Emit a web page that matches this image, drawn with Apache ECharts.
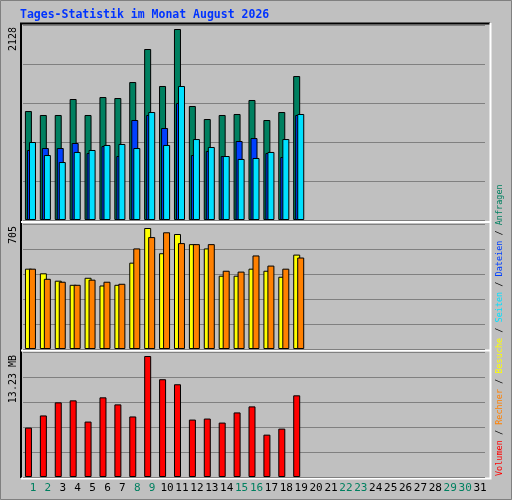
<!DOCTYPE html>
<html><head><meta charset="utf-8">
<script src="https://cdn.jsdelivr.net/npm/echarts@6/dist/echarts.min.js"></script>
<style>html,body{margin:0;padding:0;background:#c0c0c0}#c{width:512px;height:500px}</style>
</head><body><div id="c"></div>
<script>
const days = Array.from({length:31},(_,i)=>String(i+1));
const weekend = ['1','2','8','9','15','16','22','23','29','30'];
const anfragen = [1214,1170,1170,1348,1170,1370,1359,1537,1905,1493,2128,1270,1125,1170,1181,1337,1114,1203,1604];
const dateien = [780,802,802,858,746,824,713,1114,1170,1025,1303,724,769,713,880,913,746,702,1170];
const seiten = [869,724,646,758,780,836,847,802,1203,836,1493,902,813,713,680,691,758,902,1181];
const besuche = [468,441,398,374,415,370,374,503,705,558,670,611,586,427,427,468,456,421,550];
const rechner = [468,409,392,374,404,392,380,586,652,680,617,611,611,456,451,545,486,468,533];
const volumen = [5.40,6.73,8.16,8.38,6.06,8.71,7.94,6.62,13.23,10.69,10.14,6.28,6.39,5.95,7.06,7.72,4.63,5.29,8.93];
const yLabels = ['2128','705','13.23 MB'];

const chart = echarts.init(document.getElementById('c'));
const L=23, W=462;
const grids=[{left:L,top:25,width:W,height:195},{left:L,top:224,width:W,height:125},{left:L,top:352,width:W,height:125}];
const maxes=[2128*195/191,705*125/121,13.23*125/121];
const xAxes=grids.map((g,i)=>({type:'category',gridIndex:i,data:days,axisLine:{show:false},axisTick:{show:false},
  axisLabel:i<2?{show:false}:{show:true,interval:0,margin:6,fontFamily:'DejaVu Sans Mono',fontSize:11,padding:[0,0,0,5],
    color:(v)=>weekend.includes(v)?'#008060':'#000'}}));
const yAxes=grids.map((g,i)=>({type:'value',gridIndex:i,min:0,max:maxes[i],interval:maxes[i]/5,axisLabel:{show:false},
  axisLine:{show:false},axisTick:{show:false},splitLine:{show:true,lineStyle:{color:'#808080',width:1}}}));
const bs=(name,data,color,gi,gap)=>({type:'bar',name,data,xAxisIndex:gi,yAxisIndex:gi,barWidth:7,barGap:gap,
  itemStyle:{color,borderColor:'#000',borderWidth:1},silent:true,animation:false});
const lt=(x,y,t)=>({type:'text',x,y,rotation:Math.PI/2,style:{text:t,fill:'#000',font:'10px "DejaVu Sans Mono"',textAlign:'right',textVerticalAlign:'middle'}});
chart.setOption({
  animation:false,
  backgroundColor:'#c0c0c0',
  grid:grids, xAxis:xAxes, yAxis:yAxes,
  series:[
    bs('Anfragen',anfragen,'#008060',0,'-71%'),bs('Dateien',dateien,'#0040ff',0,'-71%'),bs('Seiten',seiten,'#00e0ff',0,'-71%'),
    bs('Besuche',besuche,'#ffff00',1,'-43%'),bs('Rechner',rechner,'#ff8000',1,'-43%'),
    bs('Volumen',volumen,'#ff0000',2,'-43%'),bs('x',[],'#ff0000',2,'-43%')
  ],
  graphic:[
    {type:'rect',shape:{x:0.5,y:0.5,width:511,height:499},style:{fill:null,stroke:'#808080',lineWidth:1},z:-1},
    {type:'text',x:20,y:15,style:{text:'Tages-Statistik im Monat August 2026',fill:'#0033ff',font:'bold 11.5px "DejaVu Sans Mono"',textVerticalAlign:'middle'}},
    {type:'polyline',shape:{points:[[21,478],[21,23.5],[490,23.5]]},style:{stroke:'#000',lineWidth:2,fill:null}},
    {type:'polyline',shape:{points:[[490.5,23],[490.5,478.5],[21,478.5]]},style:{stroke:'#fff',lineWidth:2,fill:null}},
    {type:'line',shape:{x1:21,y1:222,x2:490,y2:222},style:{stroke:'#fff',lineWidth:2}},
    {type:'line',shape:{x1:21,y1:350.5,x2:490,y2:350.5},style:{stroke:'#fff',lineWidth:2}},
    lt(13,27,yLabels[0]),lt(13,226,yLabels[1]),lt(13,355,yLabels[2]),
    {type:'text',x:500,y:476,rotation:Math.PI/2,style:{textAlign:'left',textVerticalAlign:'middle',font:'8.5px "DejaVu Sans Mono"',
      text:'{r|Volumen} {k|/} {o|Rechner} {k|/} {y|Besuche} {k|/} {c|Seiten} {k|/} {b|Dateien} {k|/} {g|Anfragen}',
      rich:{r:{fill:'#ff0000'},o:{fill:'#ff8000'},y:{fill:'#ffff00'},c:{fill:'#00e0ff'},b:{fill:'#0040ff'},g:{fill:'#008060'},k:{fill:'#000'}}}}
  ]
});
</script></body></html>
